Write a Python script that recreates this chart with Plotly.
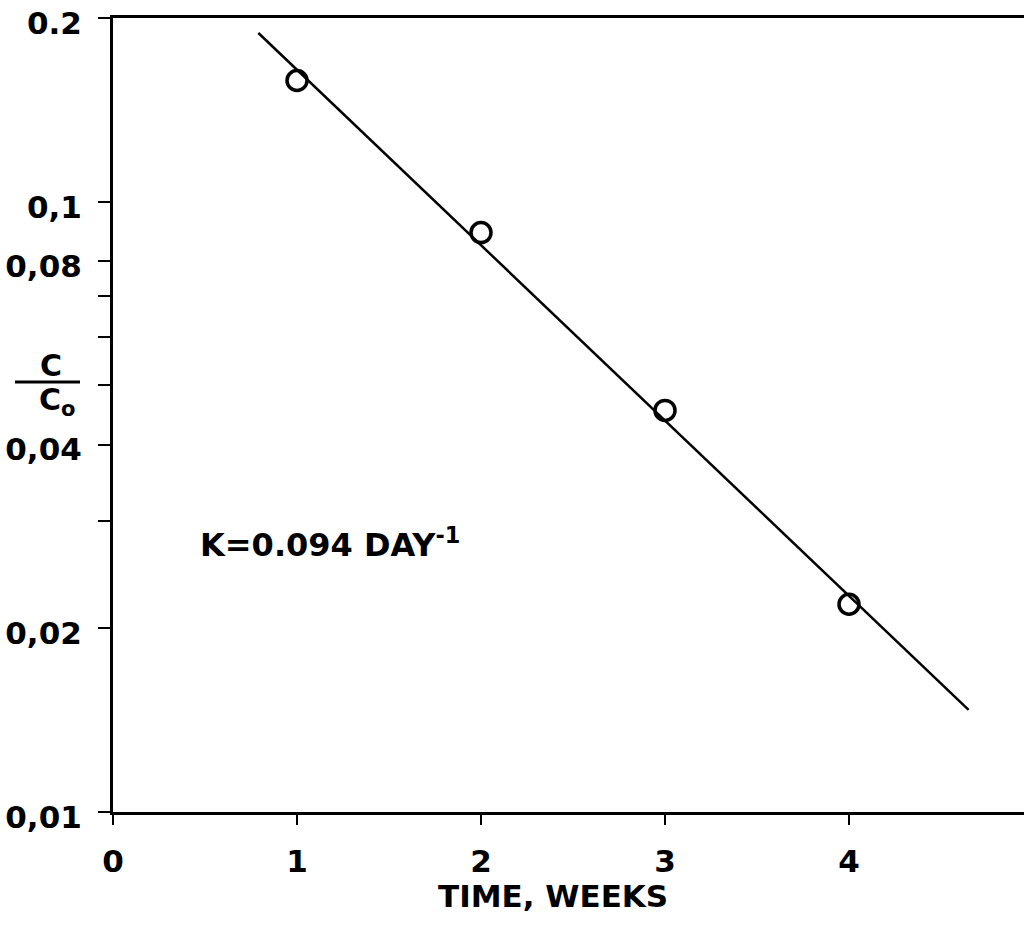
import plotly.graph_objects as go

# Data
weeks = [1, 2, 3, 4]
ratio = [0.158, 0.089, 0.0455, 0.0219]
fit_weeks = [0.79, 4.65]
fit_ratio = [0.189, 0.0147]

x_tickvals = [0, 1, 2, 3, 4]
x_ticktext = ["0", "1", "2", "3", "4"]
y_tickvals = [0.01, 0.02, 0.04, 0.08, 0.1, 0.2]
y_ticktext = ["0,01", "0,02", "0,04", "0,08", "0,1", "0.2"]
y_minor_tickvals = [0.03, 0.05, 0.06, 0.07]

FONT = "DejaVu Sans"
FSIZE = 31

fig = go.Figure()
fig.add_trace(go.Scatter(
    x=fit_weeks, y=fit_ratio, mode="lines",
    line=dict(color="black", width=2.5), showlegend=False, hoverinfo="skip"))
fig.add_trace(go.Scatter(
    x=weeks, y=ratio, mode="markers",
    marker=dict(symbol="circle-open", size=20, color="black",
                line=dict(color="black", width=3.5)),
    showlegend=False))

fig.update_layout(
    width=1024, height=928,
    margin=dict(l=113, r=0, t=18, b=116, autoexpand=False),
    paper_bgcolor="white", plot_bgcolor="white",
    font=dict(family=FONT, size=FSIZE, color="black", weight="bold"),
    xaxis=dict(range=[0, 4.951], tickvals=x_tickvals, ticktext=x_ticktext,
               showgrid=False, zeroline=False, showline=True, linecolor="black",
               linewidth=3, mirror=True, ticks="outside", ticklen=10, tickwidth=2,
               tickcolor="black", ticklabelstandoff=10, automargin=False),
    yaxis=dict(type="log", range=[-2, -0.69897], tickvals=y_tickvals,
               ticktext=y_ticktext, showgrid=False, zeroline=False,
               showline=True, linecolor="black", linewidth=3, mirror=False,
               ticks="outside", ticklen=12, tickwidth=2, tickcolor="black",
               ticklabelstandoff=10, ticklabeloverflow="allow",
               ticklabelshift=5, automargin=False,
               minor=dict(tickmode="array", tickvals=y_minor_tickvals,
                          ticks="outside", ticklen=12, tickwidth=2,
                          tickcolor="black", showgrid=False)),
)

# axis titles and annotation
fig.add_annotation(text="TIME, WEEKS", xref="paper", yref="paper",
                   x=(553 - 113) / 911, y=(812 - 896) / 794,
                   xanchor="center", yanchor="middle", showarrow=False,
                   font=dict(family=FONT, size=FSIZE, weight="bold"))
fig.add_annotation(text="C", xref="paper", yref="paper",
                   x=(51 - 113) / 911, y=(812 - 365) / 794,
                   xanchor="center", yanchor="middle", showarrow=False,
                   font=dict(family=FONT, size=30, weight="bold"))
fig.add_annotation(text="C<sub>o</sub>", xref="paper", yref="paper",
                   x=(57 - 113) / 911, y=(812 - 401) / 794,
                   xanchor="center", yanchor="middle", showarrow=False,
                   font=dict(family=FONT, size=30, weight="bold"))
fig.add_shape(type="line", xref="paper", yref="paper",
              x0=(15 - 113) / 911, x1=(80 - 113) / 911,
              y0=(812 - 382) / 794, y1=(812 - 382) / 794,
              line=dict(color="black", width=3))
fig.add_annotation(text="K=0.094 DAY<sup>-1</sup>", xref="paper", yref="paper",
                   x=(198 - 113) / 911, y=(812 - 543) / 794,
                   xanchor="left", yanchor="middle", showarrow=False,
                   font=dict(family=FONT, size=32, weight="bold"))

fig.write_html("out.html")
